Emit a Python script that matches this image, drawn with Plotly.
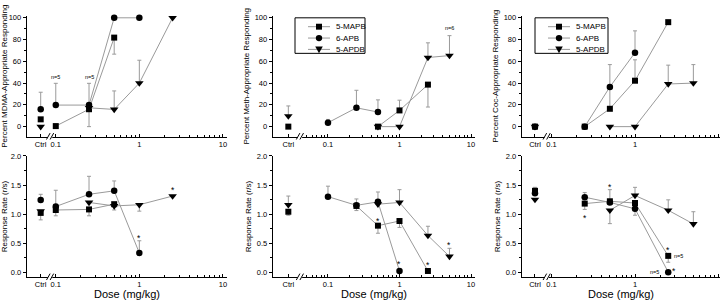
import math
import plotly.graph_objects as go

# ---------------- data ----------------
DOSES = [0.1, 0.25, 0.5, 1, 2.5, 5]          # mg/kg
DRUGS = ["5-MAPB", "6-APB", "5-APDB"]
X_TICK_TEXT = ["Ctrl", "0.1", "1", "10"]
X_TICK_DOSES = [0.1, 1, 10]
PCT_TICKS = [0, 20, 40, 60, 80, 100]
RATE_TICKS = [0.0, 0.5, 1.0, 1.5, 2.0]

# first entry = Ctrl (vehicle); remaining entries follow DOSES
# Percent MDMA-appropriate responding
MDMA_PCT_MAPB = [6.7, 0.5, 16.0, 81.8, None, None, None]
MDMA_PCT_MAPB_UP = [0, 0, 0, 0, 0, 0, 0]
MDMA_PCT_MAPB_DN = [0, 0, 16.0, 15.2, 0, 0, 0]
MDMA_PCT_APB = [16.0, 19.8, 19.8, 100, 100, None, None]
MDMA_PCT_APB_UP = [15.6, 20.0, 20.0, 0, 0, 0, 0]
MDMA_PCT_APB_DN = [0, 0, 0, 0, 0, 0, 0]
MDMA_PCT_APDB = [0.0, None, 17.3, 15.8, 40.0, 100, None]
MDMA_PCT_APDB_UP = [0, 0, 0, 17.0, 21.0, 0, 0]
MDMA_PCT_APDB_DN = [0, 0, 0, 0, 0, 0, 0]

# Percent Meth-appropriate responding
METH_PCT_MAPB = [0.0, None, None, 0.0, 14.9, 38.6, None]
METH_PCT_MAPB_UP = [0, 0, 0, 0, 9.4, 0, 0]
METH_PCT_MAPB_DN = [0, 0, 0, 0, 0, 20.6, 0]
METH_PCT_APB = [None, 3.6, 17.3, 13.4, None, None, None]
METH_PCT_APB_UP = [0, 3.0, 16.1, 11.2, 0, 0, 0]
METH_PCT_APB_DN = [0, 0, 0, 0, 0, 0, 0]
METH_PCT_APDB = [9.7, None, None, 0.0, 0.0, 63.5, 65.3]
METH_PCT_APDB_UP = [9.3, 0, 0, 0, 0, 13.5, 18.3]
METH_PCT_APDB_DN = [0, 0, 0, 0, 0, 0, 0]

# Percent Coc-appropriate responding
COC_PCT_MAPB = [0.0, None, 0.0, 16.4, 42.2, 96.0, None]
COC_PCT_MAPB_UP = [0, 0, 0, 20.0, 19.2, 0, 0]
COC_PCT_MAPB_DN = [0, 0, 0, 0, 0, 0, 0]
COC_PCT_APB = [0.0, None, 0.0, 36.5, 68.0, None, None]
COC_PCT_APB_UP = [0, 0, 0, 20.5, 20.0, 0, 0]
COC_PCT_APB_DN = [0, 0, 0, 0, 0, 0, 0]
COC_PCT_APDB = [0.0, None, None, 0.0, 0.0, 39.2, 40.0]
COC_PCT_APDB_UP = [0, 0, 0, 0, 0, 17.3, 17.0]
COC_PCT_APDB_DN = [0, 0, 0, 0, 0, 0, 0]

# Response rate, MDMA-trained
MDMA_RATE_MAPB = [1.02, 1.07, 1.08, 1.17, None, None, None]
MDMA_RATE_MAPB_UP = [0, 0, 0, 0, 0, 0, 0]
MDMA_RATE_MAPB_DN = [0.12, 0.10, 0.11, 0, 0, 0, 0]
MDMA_RATE_APB = [1.24, 1.13, 1.34, 1.40, 0.33, None, None]
MDMA_RATE_APB_UP = [0.10, 0.28, 0.31, 0.17, 0.21, 0, 0]
MDMA_RATE_APB_DN = [0, 0, 0, 0, 0, 0, 0]
MDMA_RATE_APDB = [1.05, None, 1.20, 1.14, 1.16, 1.31, None]
MDMA_RATE_APDB_UP = [0, 0, 0, 0, 0, 0, 0]
MDMA_RATE_APDB_DN = [0, 0, 0, 0.07, 0.11, 0, 0]

# Response rate, Meth-trained
METH_RATE_MAPB = [1.04, None, 1.14, 0.80, 0.88, 0.02, None]
METH_RATE_MAPB_UP = [0, 0, 0, 0, 0, 0, 0]
METH_RATE_MAPB_DN = [0.06, 0, 0.08, 0.13, 0.11, 0, 0]
METH_RATE_APB = [None, 1.30, 1.15, 1.21, 0.02, None, None]
METH_RATE_APB_UP = [0, 0.18, 0.11, 0.17, 0, 0, 0]
METH_RATE_APB_DN = [0, 0, 0, 0, 0, 0, 0]
METH_RATE_APDB = [1.16, None, None, 1.17, 1.20, 0.63, 0.27]
METH_RATE_APDB_UP = [0.15, 0, 0, 0, 0.22, 0.16, 0.14]
METH_RATE_APDB_DN = [0, 0, 0, 0, 0, 0, 0]

# Response rate, Coc-trained
COC_RATE_MAPB = [1.40, None, 1.18, 1.22, 1.19, 0.28, None]
COC_RATE_MAPB_UP = [0.06, 0, 0, 0.20, 0, 0, 0]
COC_RATE_MAPB_DN = [0, 0, 0.10, 0, 0, 0.11, 0]
COC_RATE_APB = [1.36, None, 1.29, 1.20, 1.09, 0.0, None]
COC_RATE_APB_UP = [0, 0, 0.08, 0, 0, 0, 0]
COC_RATE_APB_DN = [0, 0, 0, 0, 0.11, 0, 0]
COC_RATE_APDB = [1.25, None, None, 1.065, 1.32, 1.065, 0.83]
COC_RATE_APDB_UP = [0, 0, 0, 0, 0.14, 0.18, 0.21]
COC_RATE_APDB_DN = [0, 0, 0, 0.23, 0, 0, 0]

# annotation labels: (panel index 1..6, dose, y, text)
NOTES = [
    (1, 0.1, 46, "n=5"), (1, 0.25, 46, "n=5"), (1, 1, 108, "n=3"),
    (2, 5, 91, "n=6"),
    (3, 2.5, 102, "n=4"),
    (4, 1, 0.62, "*"), (4, 2.5, 1.45, "*"),
    (5, 0.5, 0.92, "*"), (5, 1, 0.18, "*"), (5, 2.5, 0.15, "*"), (5, 5, 0.50, "*"),
    (6, 0.25, 0.97, "*"), (6, 0.5, 1.50, "*"), (6, 2.5, 0.42, "*"),
    (6, 3.3, 0.28, "n=5"), (6, 1.72, 0.0, "n=5"), (6, 2.95, 0.06, "*"),
]

PANELS = [
    [(MDMA_PCT_MAPB, MDMA_PCT_MAPB_UP, MDMA_PCT_MAPB_DN),
     (MDMA_PCT_APB, MDMA_PCT_APB_UP, MDMA_PCT_APB_DN),
     (MDMA_PCT_APDB, MDMA_PCT_APDB_UP, MDMA_PCT_APDB_DN)],
    [(METH_PCT_MAPB, METH_PCT_MAPB_UP, METH_PCT_MAPB_DN),
     (METH_PCT_APB, METH_PCT_APB_UP, METH_PCT_APB_DN),
     (METH_PCT_APDB, METH_PCT_APDB_UP, METH_PCT_APDB_DN)],
    [(COC_PCT_MAPB, COC_PCT_MAPB_UP, COC_PCT_MAPB_DN),
     (COC_PCT_APB, COC_PCT_APB_UP, COC_PCT_APB_DN),
     (COC_PCT_APDB, COC_PCT_APDB_UP, COC_PCT_APDB_DN)],
    [(MDMA_RATE_MAPB, MDMA_RATE_MAPB_UP, MDMA_RATE_MAPB_DN),
     (MDMA_RATE_APB, MDMA_RATE_APB_UP, MDMA_RATE_APB_DN),
     (MDMA_RATE_APDB, MDMA_RATE_APDB_UP, MDMA_RATE_APDB_DN)],
    [(METH_RATE_MAPB, METH_RATE_MAPB_UP, METH_RATE_MAPB_DN),
     (METH_RATE_APB, METH_RATE_APB_UP, METH_RATE_APB_DN),
     (METH_RATE_APDB, METH_RATE_APDB_UP, METH_RATE_APDB_DN)],
    [(COC_RATE_MAPB, COC_RATE_MAPB_UP, COC_RATE_MAPB_DN),
     (COC_RATE_APB, COC_RATE_APB_UP, COC_RATE_APB_DN),
     (COC_RATE_APDB, COC_RATE_APDB_UP, COC_RATE_APDB_DN)],
]
Y_TITLES = ["Percent MDMA-Appropriate Responding",
            "Percent Meth-Appropriate Responding",
            "Percent Coc-Appropriate Responding",
            "Response Rate (r/s)", "Response Rate (r/s)", "Response Rate (r/s)"]
X_TITLE = "Dose (mg/kg)"

# ---------------- layout constants ----------------
W, H = 722, 305
FONT = "Liberation Sans, Arial, sans-serif"
LINE_C = "#9a9a9a"
SYMBOLS = ["square", "circle", "triangle-down"]
MSIZE = [6, 6.5, 7.5]

COL_PX = [(26.7, 227.0), (272.7, 475.0), (521.7, 720.0)]
ROW_PX = [(12.0, 134.3), (154.0, 276.7)]
COL_XLOG = [(-1.348, 1.049), (-1.773, 1.056), (-1.357, 1.018)]
CTRL_X = [0.066, 0.0279, 0.0634]
BREAK_X = [0.0855, 0.0405, 0.0875]
MINOR_START = [0.2, 0.05, 0.2]
ROW_YRANGE = [(-9.1, 101.8), (-0.085, 2.0)]


def px2x(px):
    return px / W


def px2y(py):
    return 1 - py / H


fig = go.Figure()
layout = dict(
    width=W, height=H, margin=dict(l=0, r=0, t=0, b=0),
    paper_bgcolor="white", plot_bgcolor="white", showlegend=False,
    font=dict(family=FONT, size=8, color="black"),
)
shapes, annotations = [], []

for p in range(6):
    row, col = divmod(p, 3)
    ax = "" if p == 0 else str(p + 1)
    xname, yname = "x" + ax, "y" + ax
    xr = COL_XLOG[col]
    # minor ticks on log segment only
    minor_vals = []
    for dec in (0.01, 0.1, 1):
        for m in range(2, 10):
            v = m * dec
            if v >= MINOR_START[col] - 1e-9 and math.log10(v) < xr[1]:
                minor_vals.append(v)
    xaxis = dict(
        type="log", range=list(xr),
        domain=[px2x(COL_PX[col][0]), px2x(COL_PX[col][1])],
        anchor=yname, showline=True, linecolor="black", linewidth=1,
        showgrid=False, zeroline=False,
        tickmode="array", tickvals=[CTRL_X[col]] + X_TICK_DOSES, ticktext=X_TICK_TEXT,
        ticks="inside", ticklen=3, tickwidth=1, tickcolor="black",
        tickfont=dict(size=7.5, family=FONT, color="black"),
        minor=dict(tickmode="array", tickvals=minor_vals, ticks="inside", ticklen=2,
                   tickwidth=1, tickcolor="black", showgrid=False),
    )
    yr = ROW_YRANGE[row]
    yaxis = dict(
        range=list(yr), domain=[px2y(ROW_PX[row][1]), px2y(ROW_PX[row][0])],
        anchor=xname, showline=True, linecolor="black", linewidth=1,
        showgrid=False, zeroline=False,
        ticks="outside", ticklen=3, tickwidth=1, tickcolor="black",
        tickfont=dict(size=7.5, family=FONT, color="black"),
        title=dict(text=Y_TITLES[p], font=dict(size=8, family=FONT), standoff=3),
    )
    if row == 0:
        yaxis.update(tickmode="array", tickvals=PCT_TICKS,
                     minor=dict(dtick=10, tick0=0, ticks="outside", ticklen=2, tickcolor="black"))
    else:
        yaxis.update(tickmode="array", tickvals=RATE_TICKS, tickformat=".1f",
                     minor=dict(dtick=0.25, tick0=0, ticks="outside", ticklen=2, tickcolor="black"))
        # x-axis title as centred text under the lower panels
        annotations.append(dict(
            xref=xname + " domain", yref="paper", x=0.5, y=px2y(294), text=X_TITLE,
            showarrow=False, xanchor="center", yanchor="middle",
            font=dict(size=11, family=FONT, color="black")))
    layout["xaxis" + ax] = xaxis
    layout["yaxis" + ax] = yaxis

    # data traces
    for d, (vals, up, dn) in enumerate(PANELS[p]):
        xs = [CTRL_X[col], None] + DOSES
        ys = [vals[0], None] + vals[1:]
        eu = [up[0], 0] + up[1:]
        ed = [dn[0], 0] + dn[1:]
        fig.add_trace(go.Scatter(
            x=xs, y=ys, mode="lines+markers", name=DRUGS[d],
            xaxis=xname, yaxis=yname, connectgaps=False, cliponaxis=False,
            line=dict(color=LINE_C, width=1),
            marker=dict(symbol=SYMBOLS[d], size=MSIZE[d], color="black",
                        line=dict(width=0)),
            error_y=dict(type="data", symmetric=False, array=eu, arrayminus=ed,
                         color=LINE_C, thickness=1, width=2),
            showlegend=False,
        ))

    # axis break marks "//"
    dom_w = COL_PX[col][1] - COL_PX[col][0]
    dom_h = ROW_PX[row][1] - ROW_PX[row][0]
    f = (math.log10(BREAK_X[col]) - xr[0]) / (xr[1] - xr[0])
    px = 1.0 / dom_w
    py = 1.0 / dom_h
    shapes.append(dict(type="rect", xref=xname + " domain", yref=yname + " domain",
                       x0=f - 2.2 * px, x1=f + 2.2 * px, y0=-2 * py, y1=2 * py,
                       fillcolor="white", line=dict(width=0), layer="above"))
    for c in (-1.8, 1.8):
        shapes.append(dict(type="line", xref=xname + " domain", yref=yname + " domain",
                           x0=f + (c - 1.8) * px, x1=f + (c + 1.8) * px,
                           y0=-3 * py, y1=3.5 * py,
                           line=dict(color="black", width=1), layer="above"))

# annotations
for (p, dose, yv, txt) in NOTES:
    ax = "" if p == 1 else str(p)
    star = txt == "*"
    annotations.append(dict(
        xref="x" + ax, yref="y" + ax, x=math.log10(dose), y=yv, text=txt,
        showarrow=False, xanchor="center", yanchor="middle",
        yshift=-2 if star else 0,
        font=dict(size=8.5 if star else 5.5, family=FONT, color="black")))

# manual boxed legends in Meth and Coc percent panels
LEG_BOX = [(295, 365, 14, 50), (535, 608, 14, 50)]
for (x0, x1, y0, y1) in LEG_BOX:
    shapes.append(dict(type="rect", xref="paper", yref="paper",
                       x0=px2x(x0), x1=px2x(x1), y0=px2y(y1), y1=px2y(y0),
                       line=dict(color="black", width=1), fillcolor="white", layer="above"))
    rows_y = [y0 + 9, y0 + 20.5, y0 + 32]
    for i, ry in enumerate(rows_y):
        lx0, lx1 = x0 + 13, x0 + 35
        mx = (lx0 + lx1) / 2
        shapes.append(dict(type="line", xref="paper", yref="paper",
                           x0=px2x(lx0), x1=px2x(lx1), y0=px2y(ry), y1=px2y(ry),
                           line=dict(color=LINE_C, width=1), layer="above"))
        if SYMBOLS[i] == "square":
            shapes.append(dict(type="rect", xref="paper", yref="paper",
                               x0=px2x(mx - 3), x1=px2x(mx + 3), y0=px2y(ry + 3), y1=px2y(ry - 3),
                               fillcolor="black", line=dict(width=0), layer="above"))
        elif SYMBOLS[i] == "circle":
            shapes.append(dict(type="circle", xref="paper", yref="paper",
                               x0=px2x(mx - 3.2), x1=px2x(mx + 3.2), y0=px2y(ry + 3.2), y1=px2y(ry - 3.2),
                               fillcolor="black", line=dict(width=0), layer="above"))
        else:
            path = "M {:.5f},{:.5f} L {:.5f},{:.5f} L {:.5f},{:.5f} Z".format(
                px2x(mx - 3.8), px2y(ry - 3), px2x(mx + 3.8), px2y(ry - 3), px2x(mx), px2y(ry + 3.8))
            shapes.append(dict(type="path", xref="paper", yref="paper", path=path,
                               fillcolor="black", line=dict(width=0), layer="above"))
        annotations.append(dict(xref="paper", yref="paper", x=px2x(x0 + 39), y=px2y(ry),
                                text=DRUGS[i], showarrow=False, xanchor="left", yanchor="middle",
                                font=dict(size=8, family=FONT, color="black")))

layout["shapes"] = shapes
layout["annotations"] = annotations
fig.update_layout(**layout)
fig.write_html(
    "out.html",
    config={"displayModeBar": False},
    post_script="document.body.style.margin='0';document.body.style.overflow='hidden';",
)
